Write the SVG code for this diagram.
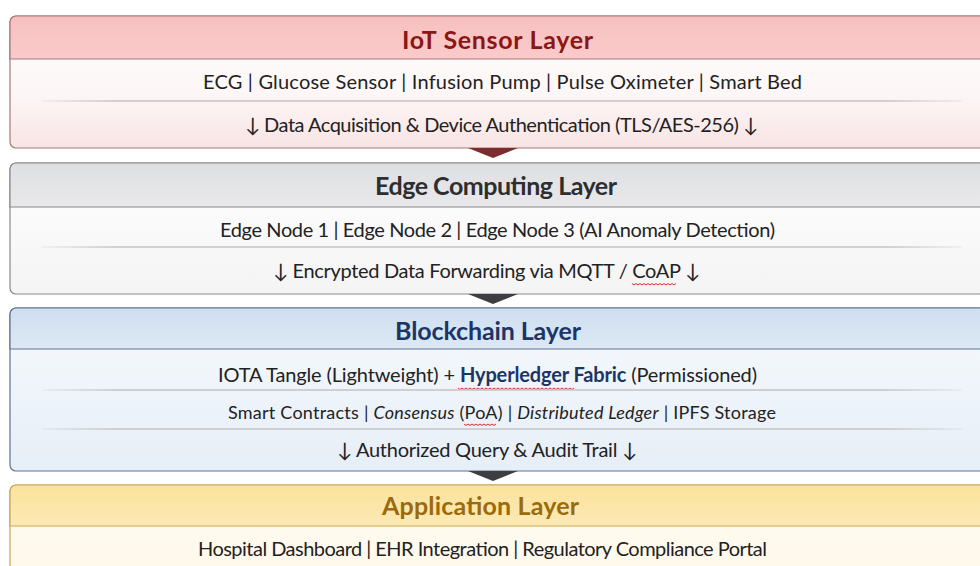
<svg xmlns="http://www.w3.org/2000/svg" width="980" height="566" viewBox="0 0 980 566">
  <defs>
    <linearGradient id="h1" x1="0" y1="0" x2="0" y2="1"><stop offset="0" stop-color="#f7c0c0"/><stop offset="1" stop-color="#fbcaca"/></linearGradient>
    <linearGradient id="b1" x1="0" y1="0" x2="0" y2="1"><stop offset="0" stop-color="#ffffff"/><stop offset="0.6" stop-color="#fdf6f6"/><stop offset="1" stop-color="#f8e4e4"/></linearGradient>
    <linearGradient id="h2" x1="0" y1="0" x2="0" y2="1"><stop offset="0" stop-color="#dedfe2"/><stop offset="1" stop-color="#e9e9eb"/></linearGradient>
    <linearGradient id="b2" x1="0" y1="0" x2="0" y2="1"><stop offset="0" stop-color="#ffffff"/><stop offset="1" stop-color="#f4f4f5"/></linearGradient>
    <linearGradient id="h3" x1="0" y1="0" x2="0" y2="1"><stop offset="0" stop-color="#cfdff0"/><stop offset="1" stop-color="#dce8f4"/></linearGradient>
    <linearGradient id="b3" x1="0" y1="0" x2="0" y2="1"><stop offset="0" stop-color="#f7fafd"/><stop offset="1" stop-color="#e6eef7"/></linearGradient>
    <linearGradient id="h4" x1="0" y1="0" x2="0" y2="1"><stop offset="0" stop-color="#fbe29c"/><stop offset="1" stop-color="#fceab4"/></linearGradient>
    <linearGradient id="b4" x1="0" y1="0" x2="0" y2="1"><stop offset="0" stop-color="#fffbf1"/><stop offset="1" stop-color="#fff8ea"/></linearGradient>
    <linearGradient id="sep" gradientUnits="userSpaceOnUse" x1="42" y1="0" x2="962" y2="0"><stop offset="0" stop-color="#c4c4c4" stop-opacity="0.2"/><stop offset="0.08" stop-color="#c4c4c4"/><stop offset="0.92" stop-color="#c4c4c4"/><stop offset="1" stop-color="#c4c4c4" stop-opacity="0.2"/></linearGradient>
  </defs>
  <style>
    text { font-family: Lato, "Open Sans", "DejaVu Sans", sans-serif; text-anchor: middle; fill: #222; }
    .title { font-size: 25px; font-weight: bold; }
    .row { font-size: 20px; }
    .small { font-size: 18px; }
    .sep { stroke: url(#sep); stroke-width: 1.3; }
    .sq { fill: none; stroke: #d23030; stroke-width: 1; }
  </style>
  <rect width="980" height="566" fill="#ffffff"/>

  <g id="iot-sensor-layer">
    <rect x="10" y="16" width="990" height="132" rx="6" fill="url(#b1)" stroke="#a77878" stroke-width="1.2"/>
    <path d="M10,59 V22 a6,6 0 0 1 6,-6 H1000 V59 Z" fill="url(#h1)" stroke="#a77878" stroke-width="1.2"/>
    <text class="title" x="497.5" y="48.5" textLength="191" style="fill:#8c1616">IoT Sensor Layer</text>
    <text class="row" x="502.5" y="89" textLength="599">ECG | Glucose Sensor | Infusion Pump | Pulse Oximeter | Smart Bed</text>
    <line class="sep" x1="42" y1="101" x2="962" y2="101"/>
    <text class="row" x="501.5" y="131.5" textLength="513">↓ Data Acquisition &amp; Device Authentication (TLS/AES-256) ↓</text>
  </g>

  <g id="edge-computing-layer">
    <rect x="10" y="163" width="990" height="131" rx="6" fill="url(#b2)" stroke="#8a8a8e" stroke-width="1.2"/>
    <path d="M10,207 V169 a6,6 0 0 1 6,-6 H1000 V207 Z" fill="url(#h2)" stroke="#8a8a8e" stroke-width="1.2"/>
    <text class="title" x="496" y="195" textLength="242" style="fill:#2e2e30">Edge Computing Layer</text>
    <text class="row" x="497.5" y="237" textLength="555">Edge Node 1 | Edge Node 2 | Edge Node 3 (AI Anomaly Detection)</text>
    <line class="sep" x1="42" y1="247" x2="962" y2="247"/>
    <text class="row" x="486.5" y="278" textLength="427">↓ Encrypted Data Forwarding via MQTT / CoAP ↓</text>
    <path class="sq" d="M632,283.5 l2,1.5 l2,-1.5 l2,1.5 l2,-1.5 l2,1.5 l2,-1.5 l2,1.5 l2,-1.5 l2,1.5 l2,-1.5 l2,1.5 l2,-1.5 l2,1.5 l2,-1.5 l2,1.5 l2,-1.5 l2,1.5 l2,-1.5 l2,1.5 l2,-1.5 l2,1.5 l2,-1.5"/>
  </g>

  <g id="blockchain-layer">
    <rect x="10" y="308" width="990" height="163" rx="6" fill="url(#b3)" stroke="#5d7492" stroke-width="1.2"/>
    <path d="M10,349 V314 a6,6 0 0 1 6,-6 H1000 V349 Z" fill="url(#h3)" stroke="#5d7492" stroke-width="1.2"/>
    <text class="title" x="488" y="340" textLength="186" style="fill:#1c3567">Blockchain Layer</text>
    <text class="row" x="487.5" y="381.5" textLength="539">IOTA Tangle (Lightweight) + <tspan font-weight="bold" style="fill:#1c3567">Hyperledger Fabric</tspan> (Permissioned)</text>
    <path class="sq" d="M458,388 l2,1.5 l2,-1.5 l2,1.5 l2,-1.5 l2,1.5 l2,-1.5 l2,1.5 l2,-1.5 l2,1.5 l2,-1.5 l2,1.5 l2,-1.5 l2,1.5 l2,-1.5 l2,1.5 l2,-1.5 l2,1.5 l2,-1.5 l2,1.5 l2,-1.5 l2,1.5 l2,-1.5 l2,1.5 l2,-1.5 l2,1.5 l2,-1.5 l2,1.5 l2,-1.5 l2,1.5 l2,-1.5 l2,1.5 l2,-1.5 l2,1.5 l2,-1.5 l2,1.5 l2,-1.5 l2,1.5 l2,-1.5 l2,1.5 l2,-1.5 l2,1.5 l2,-1.5 l2,1.5 l2,-1.5 l2,1.5 l2,-1.5 l2,1.5 l2,-1.5 l2,1.5 l2,-1.5 l2,1.5 l2,-1.5 l2,1.5 l2,-1.5 l2,1.5 l2,-1.5 l2,1.5 l2,-1.5"/>
    <line class="sep" x1="42" y1="390" x2="962" y2="390"/>
    <text class="small" x="502" y="418.5" textLength="548">Smart Contracts | <tspan font-style="italic">Consensus</tspan> (PoA) | <tspan font-style="italic">Distributed Ledger</tspan> | IPFS Storage</text>
    <path class="sq" d="M464,424 l2,1.5 l2,-1.5 l2,1.5 l2,-1.5 l2,1.5 l2,-1.5 l2,1.5 l2,-1.5 l2,1.5 l2,-1.5 l2,1.5 l2,-1.5 l2,1.5 l2,-1.5 l2,1.5 l2,-1.5"/>
    <line class="sep" x1="42" y1="429" x2="962" y2="429"/>
    <text class="row" x="487" y="457" textLength="300">↓ Authorized Query &amp; Audit Trail ↓</text>
  </g>

  <g id="application-layer">
    <rect x="10" y="485" width="990" height="120" rx="6" fill="url(#b4)" stroke="#c8a45a" stroke-width="1.2"/>
    <path d="M10,526 V491 a6,6 0 0 1 6,-6 H1000 V526 Z" fill="url(#h4)" stroke="#c8a45a" stroke-width="1.2"/>
    <text class="title" x="480.5" y="515" textLength="197" style="fill:#9a6a0e">Application Layer</text>
    <text class="row" x="482.5" y="556" textLength="569">Hospital Dashboard | EHR Integration | Regulatory Compliance Portal</text>
  </g>

  <g id="connectors">
    <path d="M468,148 L518,148 L493,158 Z" fill="#7a2c2e"/>
    <path d="M468,294 L518,294 L493,304 Z" fill="#3e3e42"/>
    <path d="M468,471 L518,471 L493,481 Z" fill="#3e3e42"/>
  </g>
</svg>
